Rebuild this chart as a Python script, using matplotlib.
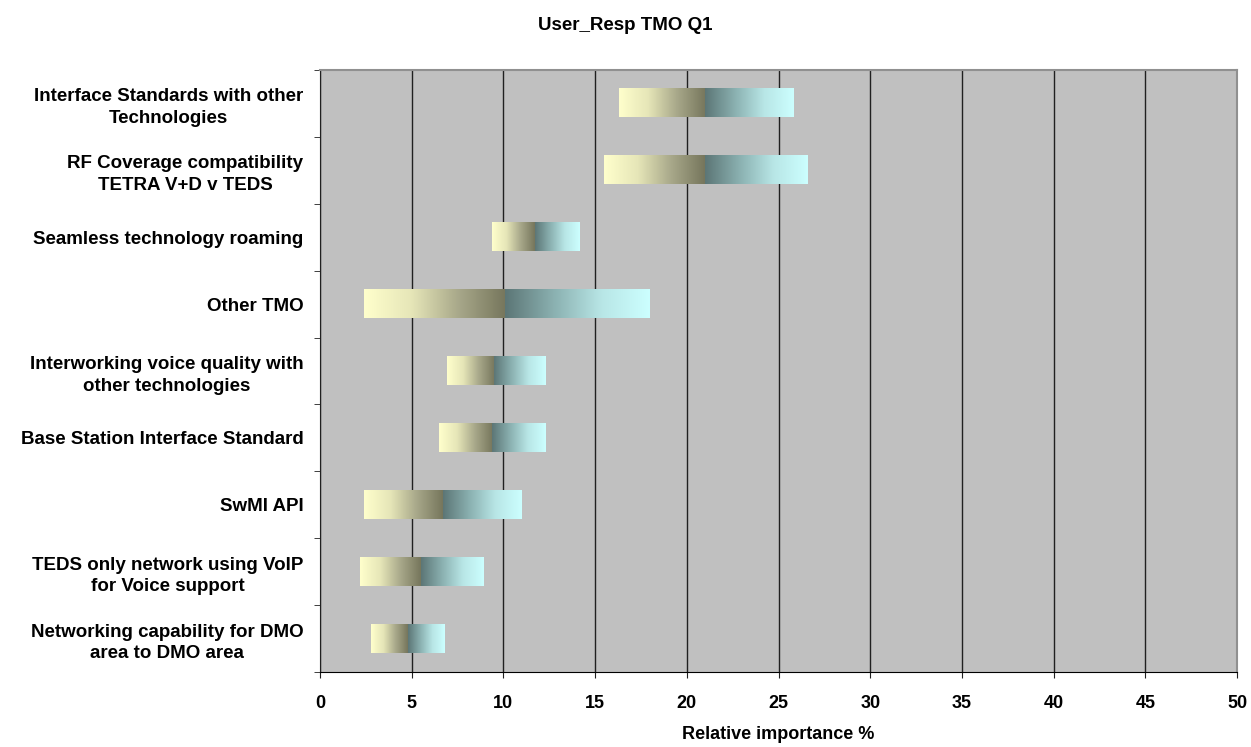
import matplotlib.pyplot as plt
import numpy as np
from matplotlib.colors import LinearSegmentedColormap

plt.rcParams['font.family'] = ['Liberation Sans', 'DejaVu Sans']

categories = [
    "Interface Standards with other\nTechnologies",
    "RF Coverage compatibility\nTETRA V+D v TEDS",
    "Seamless technology roaming",
    "Other TMO",
    "Interworking voice quality with\nother technologies",
    "Base Station Interface Standard",
    "SwMI API",
    "TEDS only network using VoIP\nfor Voice support",
    "Networking capability for DMO\narea to DMO area",
]
low = [16.3, 15.5, 9.4, 2.4, 6.9, 6.5, 2.4, 2.2, 2.8]
mid = [21.0, 21.0, 11.7, 10.1, 9.5, 9.4, 6.7, 5.5, 4.8]
high = [25.8, 26.6, 14.1, 18.0, 12.3, 12.3, 11.0, 8.9, 6.8]

yellow = LinearSegmentedColormap.from_list("yel", ["#FFFFCC", "#E6E6B8", "#A8A88A", "#76765C"])
cyan = LinearSegmentedColormap.from_list("cyn", ["#5C7676", "#8AB0B0", "#B8E6E6", "#CCFFFF"])
grad = np.linspace(0, 1, 256).reshape(1, -1)

fig = plt.figure(figsize=(12.51, 7.47), dpi=100)
ax = fig.add_axes([320 / 1251, 75 / 747, 917 / 1251, 602 / 747])
ax.set_facecolor("#C0C0C0")

n = len(categories)
h = 0.42
for i in range(n):
    y = i
    ax.imshow(grad, cmap=yellow, aspect="auto", extent=[low[i], mid[i], y + h / 2, y - h / 2], zorder=3)
    ax.imshow(grad, cmap=cyan, aspect="auto", extent=[mid[i], high[i], y + h / 2, y - h / 2], zorder=3)

ax.set_xlim(0, 50)
ax.set_ylim(n - 0.5, -0.5)
ax.set_xticks(range(0, 51, 5))
ax.set_xticklabels([str(v) for v in range(0, 51, 5)], fontsize=13, fontweight="bold")
ax.set_yticks(range(n))
ax.set_yticklabels(categories, fontsize=13.5, fontweight="bold")
for lab in ax.get_yticklabels():
    lab.set_multialignment("center")
    lab.set_linespacing(1.35)
ax.tick_params(axis="y", which="major", length=0, pad=12)
ax.set_yticks(np.arange(-0.5, n, 1), minor=True)
ax.tick_params(axis="y", which="minor", length=4.5, direction="out", color="#202020")
ax.tick_params(axis="x", length=4.5, direction="out", pad=12, color="#202020")
ax.grid(axis="x", color="#202020", lw=1, zorder=1)

for s in ["top", "right"]:
    ax.spines[s].set_color("#909090")
    ax.spines[s].set_linewidth(1.5)
ax.spines["left"].set_color("#202020")
ax.spines["bottom"].set_color("black")

ax.set_xlabel("Relative importance %", fontsize=13, fontweight="bold", labelpad=10)
fig.text(0.5, 1 - 25 / 747, "User_Resp TMO Q1", fontsize=13.5, fontweight="bold", ha="center", va="center")

fig.savefig("out.png", dpi=100)
